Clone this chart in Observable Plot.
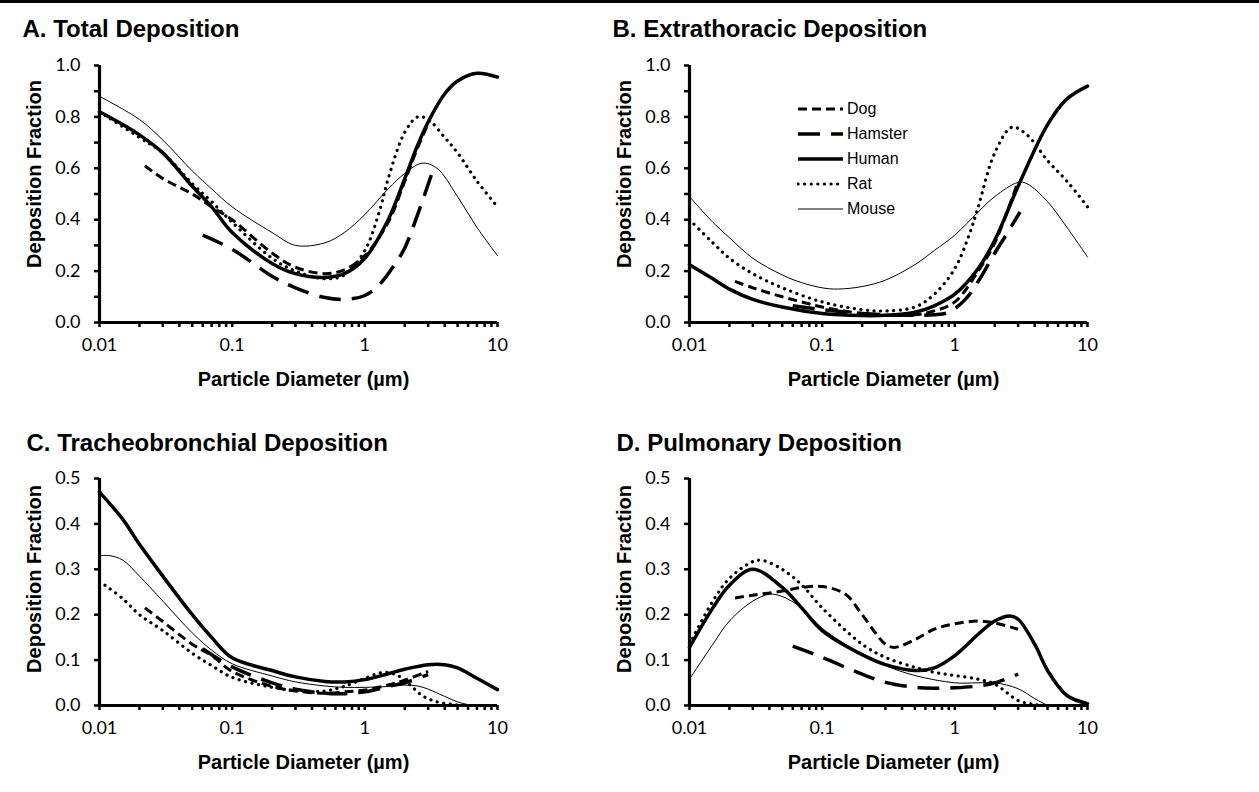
<!DOCTYPE html>
<html><head><meta charset="utf-8">
<script src="https://cdn.jsdelivr.net/npm/d3@7"></script>
<script src="https://cdn.jsdelivr.net/npm/@observablehq/plot@0.6"></script>
<style>
body{margin:0;background:#fff;}
#wrap{position:relative;width:1259px;height:792px;overflow:hidden;background:#fff;}
.panel{position:absolute;}
#rule{position:absolute;left:0;top:0;width:1259px;height:3px;background:#000;z-index:5}
#legend{position:absolute;left:797px;top:96px;font-family:"Liberation Sans",Arial,sans-serif;font-size:16px;z-index:4;color:#000}
.row{display:flex;align-items:center;height:25px}
.row svg{width:47px;height:10px;margin-right:3px}
</style></head>
<body>
<div id="wrap"><div id="rule"></div><div id="legend"></div></div>
<script>
// ---------- data: [particle diameter (µm), deposition fraction] ----------
const species = ["Dog", "Hamster", "Human", "Rat", "Mouse"];
const xTickValues = [0.01, 0.1, 1, 10];
const xTickLabels = ["0.01", "0.1", "1", "10"];

// A. Total deposition
const totalDog = [[0.022,0.61],[0.03,0.56],[0.05,0.5],[0.07,0.45],[0.1,0.4],[0.2,0.27],[0.3,0.215],[0.5,0.19],[0.7,0.205],[1,0.26],[1.5,0.39],[2,0.55],[2.5,0.68],[3.1,0.79]];
const totalHamster = [[0.06,0.34],[0.1,0.285],[0.2,0.18],[0.3,0.135],[0.5,0.097],[0.7,0.09],[1,0.105],[1.3,0.15],[1.7,0.23],[2,0.29],[2.5,0.42],[3.2,0.58]];
const totalHuman = [[0.01,0.82],[0.015,0.77],[0.02,0.73],[0.03,0.66],[0.05,0.53],[0.07,0.45],[0.1,0.35],[0.2,0.23],[0.3,0.19],[0.5,0.175],[0.7,0.19],[1,0.25],[1.5,0.4],[2,0.56],[2.5,0.69],[3,0.78],[4,0.89],[5,0.94],[7,0.97],[10,0.955]];
const totalRat = [[0.01,0.82],[0.02,0.72],[0.03,0.66],[0.05,0.54],[0.07,0.47],[0.1,0.39],[0.2,0.25],[0.3,0.2],[0.5,0.17],[0.7,0.185],[1,0.28],[1.3,0.44],[1.5,0.56],[2,0.74],[2.5,0.8],[3,0.79],[4,0.72],[5,0.66],[7,0.55],[10,0.45]];
const totalMouse = [[0.01,0.88],[0.02,0.79],[0.03,0.71],[0.05,0.59],[0.07,0.52],[0.1,0.45],[0.2,0.35],[0.3,0.3],[0.5,0.31],[0.7,0.35],[1,0.42],[1.5,0.52],[2,0.58],[2.7,0.62],[3.5,0.6],[5,0.49],[7,0.37],[10,0.26]];

// B. Extrathoracic deposition
const etDog = [[0.022,0.16],[0.03,0.135],[0.05,0.1],[0.07,0.08],[0.1,0.06],[0.2,0.035],[0.3,0.028],[0.5,0.03],[0.7,0.045],[1,0.08],[1.5,0.2],[2,0.31],[3,0.55]];
const etHamster = [[0.06,0.065],[0.1,0.05],[0.2,0.035],[0.3,0.03],[0.5,0.028],[0.7,0.03],[0.9,0.04],[1.2,0.09],[1.5,0.16],[2,0.27],[2.5,0.35],[3.1,0.43]];
const etHuman = [[0.01,0.225],[0.015,0.17],[0.02,0.13],[0.03,0.09],[0.05,0.06],[0.1,0.035],[0.2,0.027],[0.3,0.028],[0.5,0.04],[0.7,0.065],[1,0.11],[1.5,0.21],[2,0.32],[3,0.53],[5,0.77],[7,0.87],[10,0.92]];
const etRat = [[0.01,0.4],[0.015,0.31],[0.02,0.25],[0.03,0.19],[0.05,0.135],[0.1,0.08],[0.2,0.05],[0.3,0.045],[0.5,0.06],[0.7,0.11],[1,0.21],[1.3,0.35],[1.5,0.45],[2,0.66],[2.7,0.76],[3.5,0.73],[5,0.63],[7,0.55],[10,0.45]];
const etMouse = [[0.01,0.49],[0.015,0.39],[0.02,0.33],[0.03,0.25],[0.05,0.185],[0.07,0.155],[0.1,0.135],[0.13,0.13],[0.2,0.14],[0.3,0.165],[0.5,0.225],[0.7,0.28],[1,0.34],[1.5,0.43],[2,0.49],[3,0.545],[3.5,0.54],[5,0.47],[7,0.37],[10,0.255]];

// C. Tracheobronchial deposition
const tbDog = [[0.022,0.215],[0.03,0.185],[0.05,0.135],[0.07,0.11],[0.1,0.075],[0.2,0.042],[0.3,0.032],[0.5,0.027],[0.7,0.03],[1,0.034],[1.5,0.045],[2,0.056],[3,0.075]];
const tbHamster = [[0.06,0.125],[0.1,0.085],[0.2,0.05],[0.3,0.036],[0.5,0.027],[0.7,0.026],[1,0.03],[1.5,0.042],[2,0.05],[3,0.068]];
const tbHuman = [[0.01,0.47],[0.015,0.41],[0.02,0.355],[0.03,0.285],[0.05,0.2],[0.07,0.15],[0.1,0.105],[0.2,0.077],[0.3,0.063],[0.5,0.053],[0.7,0.052],[1,0.057],[1.5,0.07],[2,0.08],[3,0.09],[4,0.09],[5,0.083],[7,0.06],[10,0.035]];
const tbRat = [[0.011,0.265],[0.015,0.235],[0.02,0.2],[0.03,0.165],[0.05,0.115],[0.07,0.088],[0.1,0.062],[0.2,0.04],[0.3,0.033],[0.5,0.032],[0.7,0.042],[1,0.06],[1.4,0.073],[1.8,0.065],[2.2,0.045],[2.7,0.022],[3.5,0.008],[5,0.001]];
const tbMouse = [[0.01,0.33],[0.012,0.33],[0.015,0.32],[0.02,0.285],[0.03,0.23],[0.05,0.16],[0.07,0.122],[0.1,0.092],[0.2,0.065],[0.3,0.052],[0.5,0.043],[0.7,0.04],[1,0.04],[1.5,0.042],[2,0.045],[2.5,0.043],[3,0.036],[4,0.02],[5,0.008],[6,0.002],[7,0]];

// D. Pulmonary deposition
const pulDog = [[0.022,0.237],[0.03,0.243],[0.05,0.252],[0.07,0.26],[0.1,0.262],[0.15,0.245],[0.2,0.2],[0.3,0.135],[0.35,0.128],[0.5,0.145],[0.7,0.168],[1,0.18],[1.5,0.186],[2,0.182],[3,0.168]];
const pulHamster = [[0.06,0.131],[0.1,0.106],[0.2,0.069],[0.3,0.051],[0.5,0.04],[0.7,0.038],[1,0.039],[1.5,0.043],[2,0.05],[3,0.069]];
const pulHuman = [[0.01,0.128],[0.015,0.215],[0.02,0.265],[0.03,0.3],[0.05,0.26],[0.07,0.215],[0.1,0.165],[0.2,0.112],[0.3,0.09],[0.5,0.077],[0.7,0.083],[1,0.11],[1.5,0.157],[2,0.186],[2.6,0.197],[3,0.19],[4,0.135],[5,0.077],[7,0.022],[10,0.004]];
const pulRat = [[0.01,0.135],[0.015,0.23],[0.02,0.28],[0.03,0.317],[0.035,0.32],[0.05,0.3],[0.07,0.266],[0.1,0.215],[0.2,0.135],[0.3,0.106],[0.5,0.084],[0.7,0.073],[1,0.066],[1.5,0.058],[2,0.047],[3,0.011],[4,0.002],[5,0]];
const pulMouse = [[0.01,0.058],[0.015,0.135],[0.02,0.186],[0.03,0.23],[0.04,0.245],[0.05,0.24],[0.07,0.215],[0.1,0.17],[0.2,0.113],[0.3,0.088],[0.5,0.066],[1,0.05],[1.5,0.05],[2,0.05],[3,0.037],[4,0.015],[5,0]];

// ---------- styles ----------
const lineStyles = {
  Dog: {strokeWidth: 3, strokeDasharray: "9,5", strokeLinecap: "butt"},
  Hamster: {strokeWidth: 3.5, strokeDasharray: "22,11", strokeLinecap: "butt"},
  Human: {strokeWidth: 3.5},
  Rat: {strokeWidth: 3.2, strokeDasharray: "0.1,6.5", strokeLinecap: "round"},
  Mouse: {strokeWidth: 1}
};
const drawOrder = ["Mouse", "Rat", "Dog", "Hamster", "Human"];
const titleFont = "'Liberation Sans', Arial, sans-serif";

const minorX = [];
for (const m of xTickValues.slice(0, 3)) for (let k = 1; k <= 9; k++) minorX.push(+(m * k).toPrecision(3));
minorX.push(10);

function panel(cfg) {
  const marks = [];
  // x ticks and labels
  marks.push(Plot.axisX({ticks: minorX, tickSize: 5, strokeWidth: 2.5, tickPadding: 11,
    tickFormat: d => { const i = xTickValues.indexOf(d); return i >= 0 ? xTickLabels[i] : ""; }}));
  // y ticks
  marks.push(Plot.axisY({ticks: cfg.yMinor, tickSize: 5, strokeWidth: 2.5, tickFormat: () => ""}));
  marks.push(Plot.axisY({ticks: cfg.yTicks, tickSize: 5, strokeWidth: 2.5, tickPadding: 14, tickFormat: d3.format(".1f")}));
  // curves
  for (const sp of drawOrder) {
    marks.push(Plot.line(cfg.series[sp], {x: d => d[0], y: d => d[1], stroke: "black", curve: "catmull-rom", ...lineStyles[sp]}));
  }
  // axis lines
  marks.push(Plot.ruleX([0.01], {strokeWidth: 3.2, stroke: "black"}));
  marks.push(Plot.ruleY([0], {strokeWidth: 3.2, stroke: "black"}));
  // titles
  marks.push(Plot.text([cfg.title], {text: d => d, frameAnchor: "top-left", textAnchor: "start", lineAnchor: "middle",
    dx: 22 - 99 + cfg.titleDx, dy: cfg.titleDy, fontSize: 24, fontWeight: "bold", fontFamily: titleFont}));
  marks.push(Plot.text(["Deposition Fraction"], {text: d => d, frameAnchor: "left", rotate: -90, textAnchor: "middle", lineAnchor: "middle",
    dx: -65, dy: cfg.ylabDy, fontSize: 20, fontWeight: "bold", fontFamily: titleFont}));
  marks.push(Plot.text(["Particle Diameter (µm)"], {text: d => d, frameAnchor: "bottom", textAnchor: "middle", lineAnchor: "middle",
    dx: 5, dy: 57, fontSize: 20, fontWeight: "bold", fontFamily: titleFont}));
  const svg = Plot.plot({
    width: 590, height: cfg.height,
    marginLeft: 99, marginRight: 93, marginTop: cfg.mt, marginBottom: cfg.mb,
    x: {type: "log", domain: [0.01, 10]},
    y: {domain: [0, cfg.ymax]},
    style: {fontFamily: "Lato, sans-serif", fontSize: "18px", color: "black", background: "transparent", overflow: "visible"},
    marks
  });
  svg.classList.add("panel");
  svg.style.left = cfg.left + "px";
  svg.style.top = cfg.top + "px";
  svg.style.position = "absolute";
  document.getElementById("wrap").appendChild(svg);
}

const bigTicks = [0, 0.2, 0.4, 0.6, 0.8, 1.0];
const bigMinor = [0.1, 0.3, 0.5, 0.7, 0.9];
const smallTicks = [0, 0.1, 0.2, 0.3, 0.4, 0.5];

panel({title: "A. Total Deposition", left: 0, top: 0, height: 400, mt: 65, mb: 78, ymax: 1, yTicks: bigTicks, yMinor: bigMinor,
  titleDx: 0, titleDy: -36, ylabDy: -20,
  series: {Dog: totalDog, Hamster: totalHamster, Human: totalHuman, Rat: totalRat, Mouse: totalMouse}});
panel({title: "B. Extrathoracic Deposition", left: 590, top: 0, height: 400, mt: 65, mb: 78, ymax: 1, yTicks: bigTicks, yMinor: bigMinor,
  titleDx: 0, titleDy: -36, ylabDy: -20,
  series: {Dog: etDog, Hamster: etHamster, Human: etHuman, Rat: etRat, Mouse: etMouse}});
panel({title: "C. Tracheobronchial Deposition", left: 0, top: 400, height: 392, mt: 78, mb: 87, ymax: 0.5, yTicks: smallTicks, yMinor: [],
  titleDx: 4, titleDy: -35, ylabDy: -13,
  series: {Dog: tbDog, Hamster: tbHamster, Human: tbHuman, Rat: tbRat, Mouse: tbMouse}});
panel({title: "D. Pulmonary Deposition", left: 590, top: 400, height: 392, mt: 78, mb: 87, ymax: 0.5, yTicks: smallTicks, yMinor: [],
  titleDx: 4, titleDy: -35, ylabDy: -13,
  series: {Dog: pulDog, Hamster: pulHamster, Human: pulHuman, Rat: pulRat, Mouse: pulMouse}});

// legend (panel B)
const legend = document.getElementById("legend");
for (const sp of species) {
  const st = lineStyles[sp];
  const row = document.createElement("div");
  row.className = "row";
  row.innerHTML = `<svg viewBox="0 0 47 10"><line x1="1" x2="46" y1="5" y2="5" stroke="black" stroke-width="${st.strokeWidth}"
    ${st.strokeDasharray ? `stroke-dasharray="${st.strokeDasharray}"` : ""} stroke-linecap="${st.strokeLinecap || "butt"}"/></svg><span>${sp}</span>`;
  legend.appendChild(row);
}
</script>
</body></html>
